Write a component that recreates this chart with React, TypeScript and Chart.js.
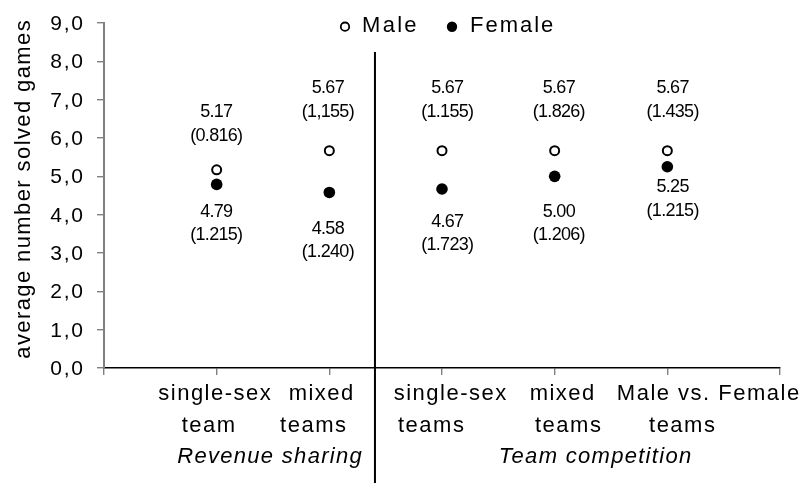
import React, { useEffect, useRef } from 'react';
import { Chart, registerables } from 'chart.js';

Chart.register(...registerables);

// ---- data ----
const categoryX = [1, 2, 3, 4, 5];
const categoriesLine1 = ['single-sex', 'mixed', 'single-sex', 'mixed', 'Male vs. Female'];
const categoriesLine2 = ['team', 'teams', 'teams', 'teams', 'teams'];
const groupLabels = ['Revenue sharing', 'Team competition'];
const maleMeans = [5.17, 5.67, 5.67, 5.67, 5.67];
const femaleMeans = [4.79, 4.58, 4.67, 5.0, 5.25];
const maleSD = ['(0.816)', '(1,155)', '(1.155)', '(1.826)', '(1.435)'];
const femaleSD = ['(1.215)', '(1.240)', '(1.723)', '(1.206)', '(1.215)'];
const yTickValues = [0, 1, 2, 3, 4, 5, 6, 7, 8, 9];
const seriesNames = ['Male', 'Female'];
const yTitle = 'average number solved games';

// ---- label anchors (in data units) ----
const labelX = [1.0, 1.99, 3.05, 4.04, 5.05];
const maleLabelY = [6.67, 7.3, 7.3, 7.3, 7.3];
const femaleLabelY = [4.07, 3.63, 3.81, 4.07, 4.72];
const line1X = [0.981, 1.926, 3.071, 4.065, 5.361];
const line2X = [0.927, 1.855, 2.902, 4.118, 5.13];
const groupX = [1.469, 4.358];
const dividerX = 2.405;

const FONT = "'Liberation Sans', Arial, sans-serif";

function drawText(
  ctx: CanvasRenderingContext2D,
  text: string,
  x: number,
  y: number,
  font: string,
  spacing: number,
  align: CanvasTextAlign,
  baseline: CanvasTextBaseline
) {
  ctx.save();
  ctx.font = font;
  (ctx as any).letterSpacing = spacing + 'px';
  ctx.textAlign = align;
  ctx.textBaseline = baseline;
  ctx.fillStyle = '#000';
  let dx = 0;
  if (align === 'center') dx = spacing / 2;
  else if (align === 'right') dx = spacing;
  ctx.fillText(text, x + dx, y);
  ctx.restore();
}

const decorPlugin = {
  id: 'decor',
  afterDraw(chart: any) {
    const ctx: CanvasRenderingContext2D = chart.ctx;
    const xs = chart.scales.x;
    const ys = chart.scales.y;
    const area = chart.chartArea;

    // divider line
    const dx = xs.getPixelForValue(dividerX);
    ctx.save();
    ctx.strokeStyle = '#000';
    ctx.lineWidth = 2;
    ctx.beginPath();
    ctx.moveTo(dx, 52);
    ctx.lineTo(dx, 483);
    ctx.stroke();
    ctx.restore();

    // y tick labels
    const tickFont = `21px ${FONT}`;
    for (const v of yTickValues) {
      const y = ys.getPixelForValue(v);
      drawText(ctx, v.toFixed(1).replace('.', ','), 83, y + 7, tickFont, 1.75, 'right', 'alphabetic');
    }

    // data labels
    const annFont = `18px ${FONT}`;
    const annSp = -0.7;
    const lineGap = 23.5;
    for (let i = 0; i < categoryX.length; i++) {
      const lx = xs.getPixelForValue(labelX[i]);
      const my = ys.getPixelForValue(maleLabelY[i]);
      drawText(ctx, maleMeans[i].toFixed(2), lx, my, annFont, annSp, 'center', 'middle');
      drawText(ctx, maleSD[i], lx, my + lineGap, annFont, annSp, 'center', 'middle');
      const fy = ys.getPixelForValue(femaleLabelY[i]);
      drawText(ctx, femaleMeans[i].toFixed(2), lx, fy, annFont, annSp, 'center', 'middle');
      drawText(ctx, femaleSD[i], lx, fy + lineGap, annFont, annSp, 'center', 'middle');
    }

    // category labels
    const catFont = `22px ${FONT}`;
    const b = area.bottom;
    for (let i = 0; i < categoryX.length; i++) {
      drawText(ctx, categoriesLine1[i], xs.getPixelForValue(line1X[i]), b + 32.4, catFont, 1.5, 'center', 'alphabetic');
      drawText(ctx, categoriesLine2[i], xs.getPixelForValue(line2X[i]), b + 64.4, catFont, 1.5, 'center', 'alphabetic');
    }
    const grpFont = `italic 22px ${FONT}`;
    for (let i = 0; i < groupLabels.length; i++) {
      drawText(ctx, groupLabels[i], xs.getPixelForValue(groupX[i]), b + 95, grpFont, 1.3, 'center', 'alphabetic');
    }

    // y title
    ctx.save();
    ctx.translate(24, (area.top + area.bottom) / 2 - 6);
    ctx.rotate(-Math.PI / 2);
    drawText(ctx, yTitle, 0, 0, `22px ${FONT}`, 1.4, 'center', 'middle');
    ctx.restore();

    // legend
    const legY = 26.7;
    const legFont = `22px ${FONT}`;
    ctx.save();
    ctx.beginPath();
    ctx.arc(345, legY, 4.2, 0, Math.PI * 2);
    ctx.fillStyle = '#fff';
    ctx.fill();
    ctx.lineWidth = 1.8;
    ctx.strokeStyle = '#000';
    ctx.stroke();
    ctx.beginPath();
    ctx.arc(452, legY, 5.2, 0, Math.PI * 2);
    ctx.fillStyle = '#000';
    ctx.fill();
    ctx.restore();
    drawText(ctx, seriesNames[0], 362, 31.7, legFont, 2.3, 'left', 'alphabetic');
    drawText(ctx, seriesNames[1], 470, 31.7, legFont, 2.0, 'left', 'alphabetic');
  },
};

export default function App() {
  const ref = useRef<HTMLCanvasElement | null>(null);
  useEffect(() => {
    if (!ref.current) return;
    const chart = new Chart(ref.current, {
      type: 'scatter',
      data: {
        datasets: [
          {
            label: seriesNames[0],
            data: categoryX.map((x, i) => ({ x, y: maleMeans[i] })),
            pointStyle: 'circle',
            pointRadius: 4.5,
            pointBorderWidth: 2,
            pointBackgroundColor: '#fff',
            pointBorderColor: '#000',
            showLine: false,
          },
          {
            label: seriesNames[1],
            data: categoryX.map((x, i) => ({ x, y: femaleMeans[i] })),
            pointStyle: 'circle',
            pointRadius: 5.8,
            pointBorderWidth: 0,
            pointBackgroundColor: '#000',
            pointBorderColor: '#000',
            showLine: false,
          },
        ],
      },
      options: {
        animation: false,
        responsive: false,
        devicePixelRatio: 1,
        layout: { padding: { top: 23, right: 21, bottom: 0, left: 0 }, autoPadding: false },
        plugins: { legend: { display: false }, tooltip: { enabled: false }, title: { display: false } },
        scales: {
          x: {
            type: 'linear',
            min: 0,
            max: 6,
            ticks: { stepSize: 1, display: false },
            grid: { drawOnChartArea: false, drawTicks: true, tickLength: 7, color: '#808080', lineWidth: 1.4 },
            border: { display: true, color: '#000', width: 1.5 },
            afterFit: (s: any) => {
              s.height = 117;
            },
          },
          y: {
            type: 'linear',
            min: 0,
            max: 9,
            afterBuildTicks: (s: any) => {
              s.ticks = yTickValues.map((v) => ({ value: v }));
            },
            ticks: { stepSize: 1, display: false },
            grid: { drawOnChartArea: false, drawTicks: true, tickLength: 7, color: '#808080', lineWidth: 1.4 },
            border: { display: true, color: '#808080', width: 2 },
            afterFit: (s: any) => {
              s.width = 104;
            },
          },
        },
      },
      plugins: [decorPlugin],
    } as any);
    return () => chart.destroy();
  }, []);
  return (
    <div style={{ position: 'absolute', left: 0, top: 0, width: 801, height: 485, background: '#fff' }}>
      <canvas ref={ref} width={801} height={485} style={{ display: 'block' }} />
    </div>
  );
}
